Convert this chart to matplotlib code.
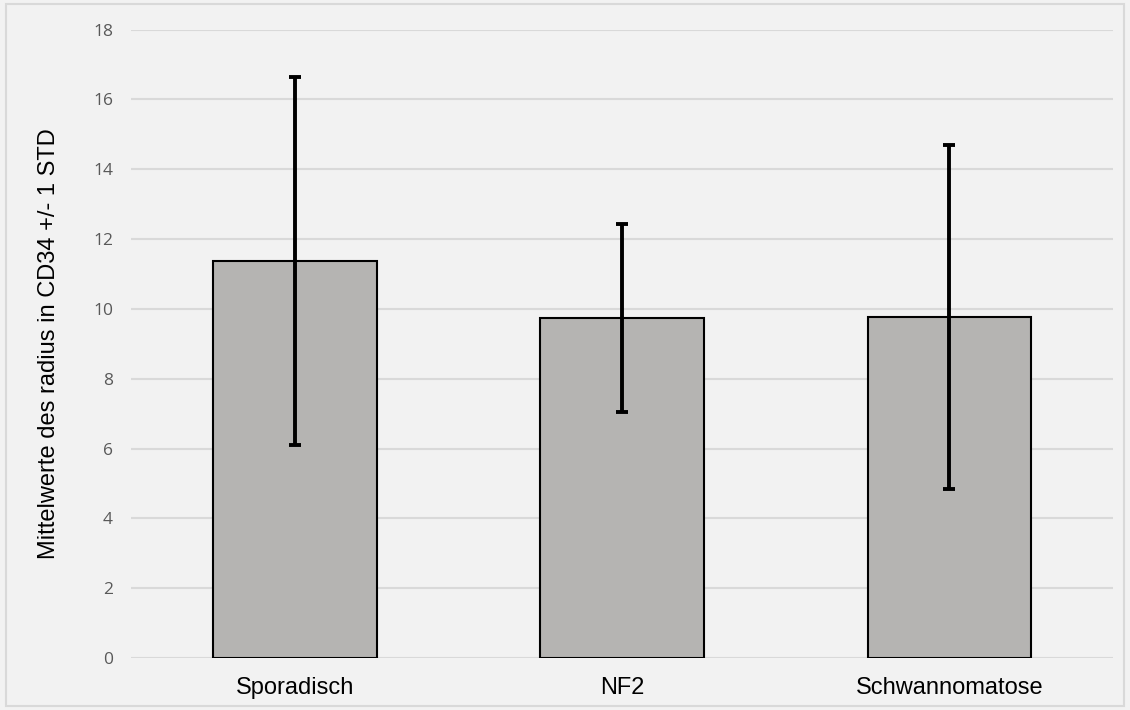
import matplotlib.pyplot as plt
from matplotlib.patches import Rectangle

categories = ['Sporadisch', 'NF2', 'Schwannomatose']
means = [11.37, 9.74, 9.77]
stds = [5.28, 2.69, 4.93]
yticks = [0, 2, 4, 6, 8, 10, 12, 14, 16, 18]

fig = plt.figure(figsize=(11.3, 7.1), dpi=100, facecolor='#f2f2f2')
fig.patches.append(Rectangle((0.005, 0.005), 0.99, 0.99, transform=fig.transFigure,
                             fill=False, edgecolor='#d9d9d9', linewidth=1.5))
ax = fig.add_axes([0.116, 0.0732, 0.869, 0.885])
ax.set_facecolor('#f2f2f2')

x = range(len(categories))
ax.bar(x, means, width=0.5, color='#b5b4b2', edgecolor='black', linewidth=1.5, zorder=2)
ax.errorbar(x, means, yerr=stds, fmt='none', ecolor='black', elinewidth=2.8,
            capsize=4.5, capthick=2.8, zorder=3)

ax.set_xlim(-0.5, 2.5)
ax.set_ylim(0, 18)
ax.set_yticks(yticks)
ax.yaxis.grid(True, color='#d9d9d9', linewidth=1.5, zorder=0)
ax.set_axisbelow(True)
for s in ax.spines.values():
    s.set_visible(False)
ax.tick_params(length=0)
ax.tick_params(axis='y', labelsize=12.5, labelcolor='#595959', pad=13)
ax.set_xticks(list(x))
ax.set_xticklabels(categories, fontsize=17, fontfamily='Liberation Sans')
ax.tick_params(axis='x', pad=14)
for lbl in ax.get_yticklabels():
    lbl.set_fontfamily('Open Sans')
ax.set_ylabel('Mittelwerte des radius in CD34 +/- 1 STD', fontsize=17,
              fontfamily='Liberation Sans', labelpad=24)

fig.savefig('out.png', dpi=100, facecolor=fig.get_facecolor())
